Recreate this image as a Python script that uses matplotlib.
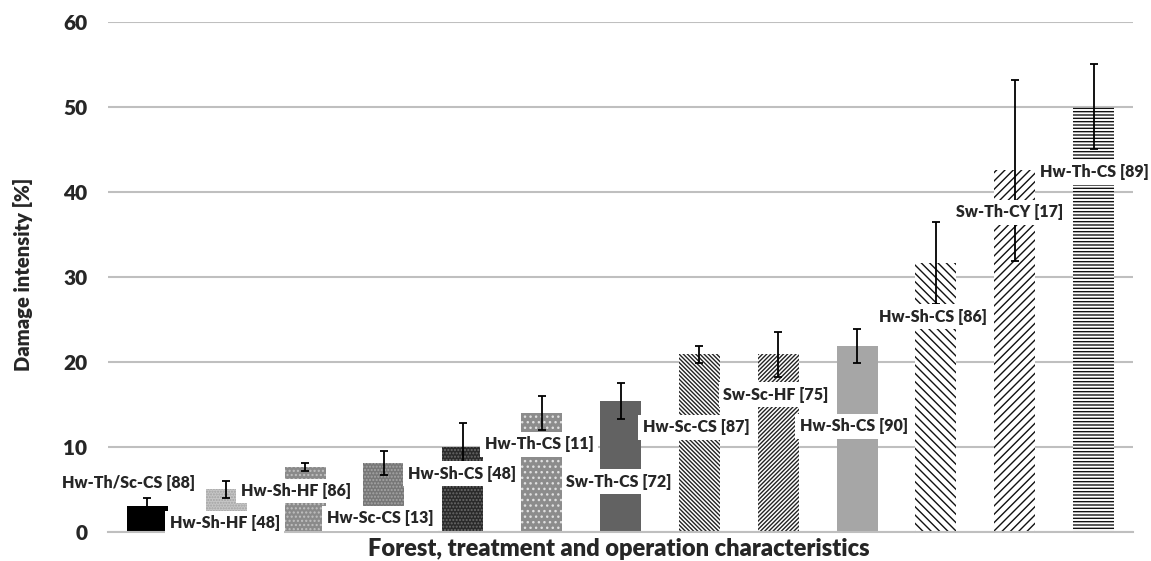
import matplotlib
matplotlib.use('Agg')
import matplotlib.pyplot as plt

# ---- data ----
categories = ['Hw-Th/Sc-CS [88]', 'Hw-Sh-HF [48]', 'Hw-Sh-HF [86]', 'Hw-Sc-CS [13]',
              'Hw-Sh-CS [48]', 'Hw-Th-CS [11]', 'Sw-Th-CS [72]', 'Hw-Sc-CS [87]',
              'Sw-Sc-HF [75]', 'Hw-Sh-CS [90]', 'Hw-Sh-CS [86]', 'Sw-Th-CY [17]',
              'Hw-Th-CS [89]']
values = [3.0, 5.0, 7.6, 8.1, 10.0, 14.0, 15.4, 20.9, 20.9, 21.9, 31.6, 42.5, 50.0]
errors = [1.0, 1.0, 0.5, 1.4, 2.75, 2.0, 2.1, 1.0, 2.65, 2.0, 4.8, 10.6, 5.0]
y_ticks = [0, 10, 20, 30, 40, 50, 60]

# ---- layout / style ----
label_pos = [(-0.24, 5.73), (0.98, 1.02), (1.88, 4.79), (2.95, 1.61), (3.99, 6.8),
             (4.97, 10.3), (5.98, 5.9), (6.96, 12.3), (7.97, 16.1), (8.96, 12.4),
             (9.96, 25.3), (10.94, 37.6), (12.01, 42.3)]
styles = [
    dict(fc='#000000', ec='#000000', h=None),
    dict(fc='#c6c6c6', ec='#a2a2a2', h='......'),
    dict(fc='#8a8a8a', ec='#c0c0c0', h='....'),
    dict(fc='#777777', ec='#a6a6a6', h='.....'),
    dict(fc='#2a2a2a', ec='#6a6a6a', h='.....'),
    dict(fc='#8c8c8c', ec='#e0e0e0', h='...'),
    dict(fc='#626262', ec='#626262', h=None),
    dict(fc='#ffffff', ec='#222222', h='\\' * 8),
    dict(fc='#ffffff', ec='#222222', h='/' * 8),
    dict(fc='#a6a6a6', ec='#a6a6a6', h=None),
    dict(fc='#ffffff', ec='#111111', h='\\' * 4),
    dict(fc='#ffffff', ec='#111111', h='/' * 4),
    dict(fc='#ffffff', ec='#111111', h='-' * 5),
]

plt.rcParams['font.family'] = ['Lato', 'DejaVu Sans']
plt.rcParams['hatch.linewidth'] = 1.0

fig = plt.figure(figsize=(11.51, 5.61), dpi=100)
ax = fig.add_axes([0.0938, 0.0522, 0.8906, 0.9091])

x = list(range(len(values)))
for i, (v, st) in enumerate(zip(values, styles)):
    ax.bar(i, v, width=0.52, color=st['fc'], edgecolor=st['ec'], hatch=st['h'],
           linewidth=0, zorder=2)
ax.errorbar(x, values, yerr=errors, fmt='none', ecolor='black', elinewidth=1.3,
            capsize=3, capthick=1.3, zorder=3)

for (lx, ly), txt in zip(label_pos, categories):
    ax.text(lx, ly, txt, ha='center', va='center', fontsize=11.5, fontweight='heavy',
            color='#262626', zorder=4,
            bbox=dict(boxstyle='square,pad=0.28', facecolor='white', edgecolor='none'))

ax.set_xlim(-0.5, len(values) - 0.5)
ax.set_ylim(0, 60)
ax.set_yticks(y_ticks)
ax.set_yticklabels([str(t) for t in y_ticks], fontsize=15, fontweight='heavy', color='#262626')
ax.set_xticks([])
ax.tick_params(axis='y', length=0, pad=15)
ax.yaxis.grid(True, color='#bfbfbf', linewidth=1.5, zorder=0)
ax.set_axisbelow(True)
for s in ['top', 'right', 'left']:
    ax.spines[s].set_visible(False)
ax.spines['bottom'].set_color('#bfbfbf')
ax.spines['bottom'].set_linewidth(1.5)

fig.text(23 / 1151, 1 - 274 / 561, 'Damage intensity [%]', rotation=90, ha='center', va='center',
         fontsize=14.5, fontweight='heavy', color='#262626')
fig.text(619 / 1151, 1 - 549 / 561, 'Forest, treatment and operation characteristics',
         ha='center', va='center', fontsize=17, fontweight='heavy', color='#262626')

fig.savefig('out.png', dpi=100)
